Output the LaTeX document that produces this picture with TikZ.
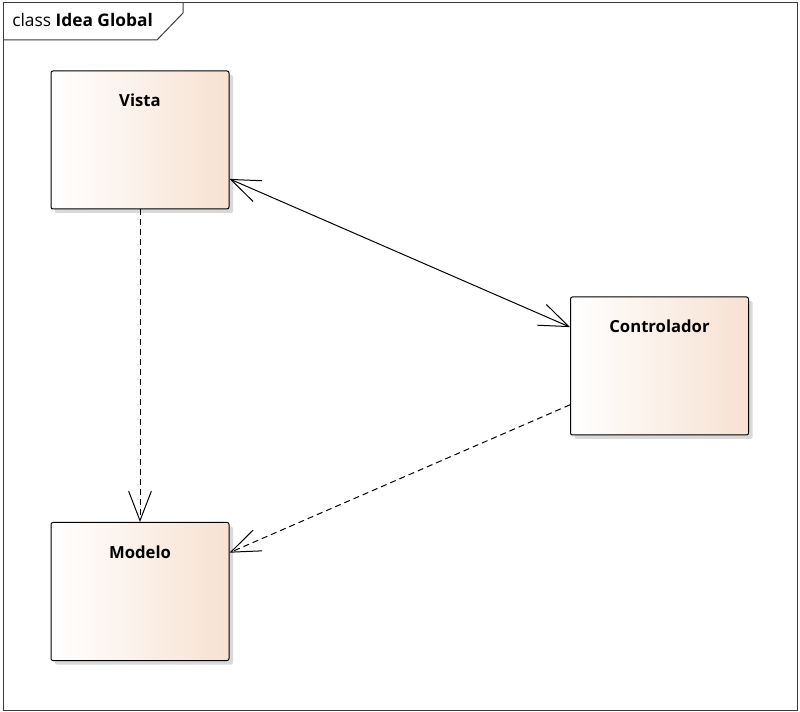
\documentclass[tikz,border=0pt]{standalone}
\usepackage{fontspec}
\setmainfont{Open Sans}
\usetikzlibrary{arrows.meta,shadows,positioning}

\definecolor{marco}{RGB}{60,60,60}
\definecolor{melocoton}{RGB}{247,225,210}

\tikzset{
    clase/.style={draw=black, line width=0.75pt, rounded corners=1.5pt,
        minimum width=133.5pt, minimum height=103.5pt,
        left color=white, right color=melocoton,
        drop shadow={shadow xshift=3pt, shadow yshift=-3pt, fill=black!15, opacity=1}},
    nombre/.style={label={[anchor=center, yshift=-22.5pt, font=\bfseries\fontsize{12.5}{15}\selectfont]north:#1}},
    flecha/.style={line width=0.75pt, >={Straight Barb[length=22pt, width=17pt]}},
    dependencia/.style={flecha, dash pattern=on 4.5pt off 3pt, ->}
}

\begin{document}
\begin{tikzpicture}[x=0.75pt, y=-0.75pt]
    \useasboundingbox (0,0) rectangle (800,712);

    % marco del diagrama
    \draw[marco, line width=0.75pt] (3,3) rectangle (797,710);
    \draw[marco, line width=0.75pt] (3,40) -- (157,40) -- (183,13) -- (183,3);
    \node[anchor=base west, inner sep=0pt, font=\fontsize{13}{15}\selectfont] (titulo) at (12,27) {class \textbf{Idea Global}};

    \node[clase, nombre=Vista] at (140,140)(vista){};
    \node[clase, nombre=Controlador] at (659.5,366)(controlador){};
    \node[clase, nombre=Modelo] at (140,591.5)(modelo){};

    \draw[flecha, <->] (vista) -- (controlador);
    \path[dependencia]
        (vista) edge (modelo)
        (controlador) edge (modelo)
        ;
\end{tikzpicture}
\end{document}
